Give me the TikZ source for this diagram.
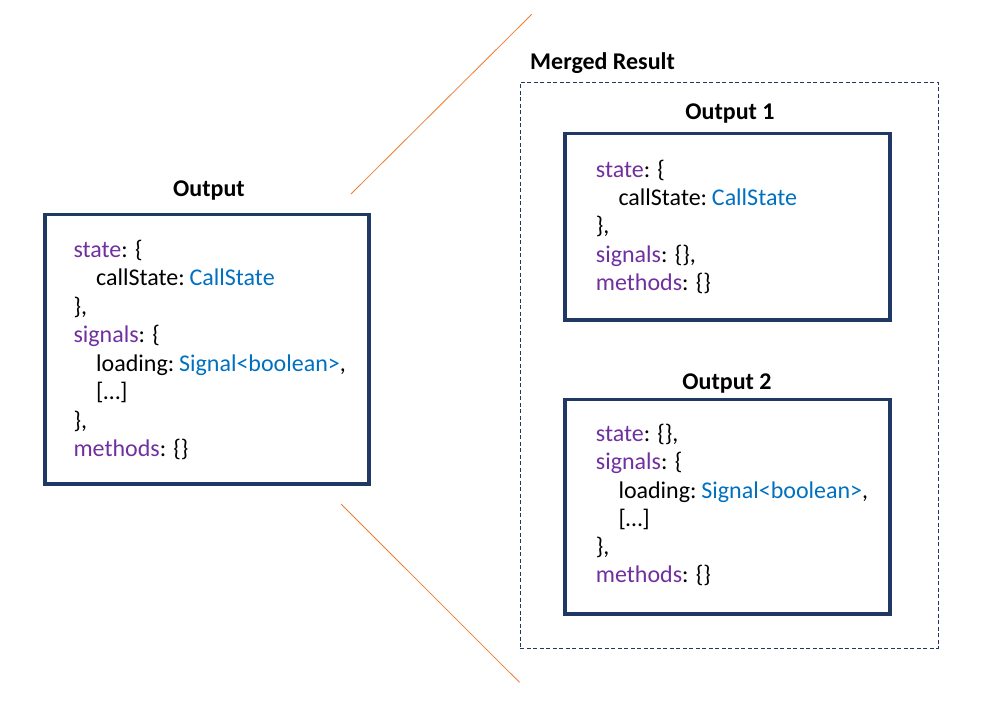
\documentclass[tikz,border=0pt]{standalone}
\usepackage{fontspec}
\setmainfont{Carlito}
\definecolor{navy}{HTML}{203864}
\definecolor{kwpurple}{HTML}{7030A0}
\definecolor{typblue}{HTML}{0070C0}
\definecolor{accent}{HTML}{ED7D31}
\newcommand{\kw}[1]{\textcolor{kwpurple}{#1}}
\newcommand{\ty}[1]{\hspace{4.8pt}\textcolor{typblue}{#1}}
\begin{document}
\begin{tikzpicture}[x=1pt,y=-1pt,
  codebox/.style={draw=navy, line width=3.5pt, inner sep=0pt, outer sep=0pt},
  mergebox/.style={draw=navy, line width=1pt, dash pattern=on 4pt off 2.5pt, inner sep=0pt, outer sep=0pt},
  titletext/.style={font=\bfseries\fontsize{24}{28}\selectfont, anchor=base, inner sep=0pt},
  codeline/.style={font=\fontsize{24}{28}\selectfont, anchor=base west, inner sep=0pt},
  zoomline/.style={draw=accent, line width=0.8pt}]
\useasboundingbox (0,0) rectangle (990,702);

% zoom lines
\coordinate (l1a) at (351,194);
\coordinate (l1b) at (531.7,14.3);
\coordinate (l2a) at (341,504);
\coordinate (l2b) at (519.5,682.3);
\draw[zoomline] (l1a) -- (l1b);
\draw[zoomline] (l2a) -- (l2b);

% left box
\node[codebox, minimum width=324pt, minimum height=269.5pt] (outbox) at (207,349.25) {};
\node[titletext] (outtitle) at (209,196) {Output};
\node[codeline] (o1) at (73.3,257) {\kw{state}: \{};
\node[codeline] (o2) at (96,285.5) {callState:\ty{CallState}};
\node[codeline] (o3) at (73.3,314) {\},};
\node[codeline] (o4) at (73.3,342.5) {\kw{signals}: \{};
\node[codeline] (o5) at (96,371) {loading:\ty{Signal<boolean>},};
\node[codeline] (o6) at (96,399.5) {[…]};
\node[codeline] (o7) at (73.3,428) {\},};
\node[codeline] (o8) at (73.3,456.5) {\kw{methods}: \{\}};

% merged result
\node[mergebox, minimum width=418pt, minimum height=566pt] (merged) at (729.3,365.3) {};
\node[titletext, anchor=base west] (mergedtitle) at (530,69.5) {Merged Result};

% output 1
\node[codebox, minimum width=325pt, minimum height=186.5pt] (box1) at (727.5,226.75) {};
\node[titletext] (title1) at (730,119) {Output 1};
\node[codeline] (a1) at (595.7,177.3) {\kw{state}: \{};
\node[codeline] (a2) at (618.3,205.5) {callState:\ty{CallState}};
\node[codeline] (a3) at (595.7,233.7) {\},};
\node[codeline] (a4) at (595.7,262) {\kw{signals}: \{\},};
\node[codeline] (a5) at (595.7,290.2) {\kw{methods}: \{\}};

% output 2
\node[codebox, minimum width=325pt, minimum height=214.5pt] (box2) at (727.5,506.75) {};
\node[titletext] (title2) at (727,389) {Output 2};
\node[codeline] (b1) at (595.7,441.7) {\kw{state}: \{\},};
\node[codeline] (b2) at (595.7,469.9) {\kw{signals}: \{};
\node[codeline] (b3) at (618.3,498.1) {loading:\ty{Signal<boolean>},};
\node[codeline] (b4) at (618.3,526.3) {[…]};
\node[codeline] (b5) at (595.7,554.5) {\},};
\node[codeline] (b6) at (595.7,582.7) {\kw{methods}: \{\}};
\end{tikzpicture}
\end{document}
